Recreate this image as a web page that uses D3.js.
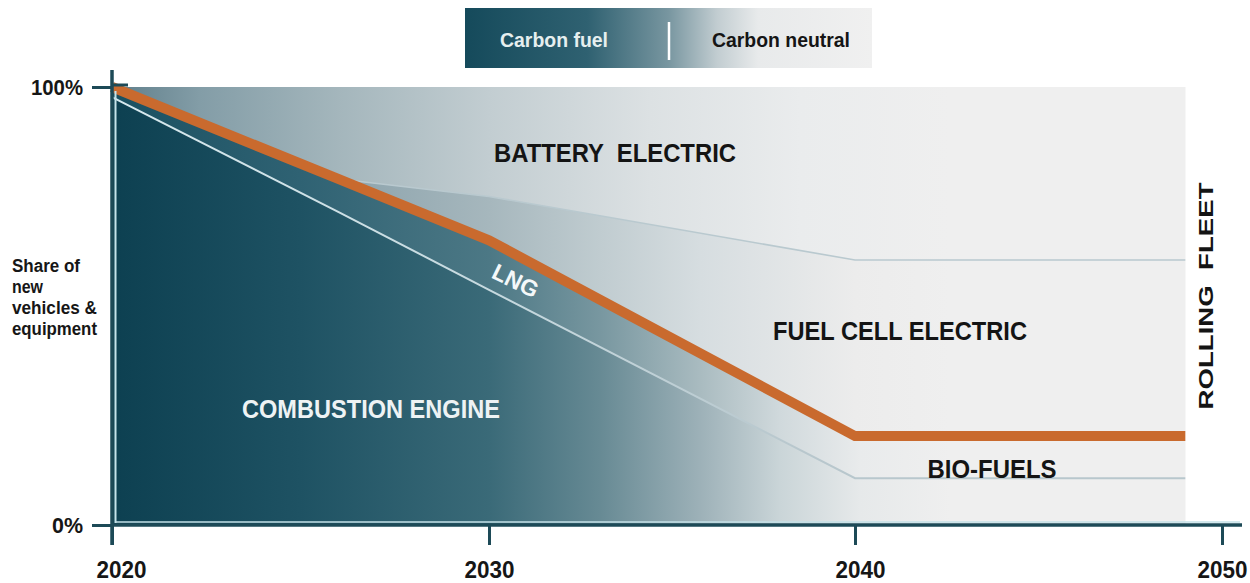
<!DOCTYPE html>
<html>
<head>
<meta charset="utf-8">
<script src="https://cdn.jsdelivr.net/npm/d3@7"></script>
<style>
  html, body { margin: 0; padding: 0; background: #ffffff; }
  svg { display: block; font-family: "Liberation Sans", Arial, sans-serif; }
</style>
</head>
<body>
<svg id="chart" width="1250" height="583"></svg>
<script>
// ---- data ----
const years = [2020, 2026, 2030, 2040, 2049];
const combustionTop = [97.7, 71.5, 53.7, 10.7, 10.7];   // upper edge of combustion engine / bio-fuel floor
const lngTop = [100, 79, 65, 20.3, 20.3];              // orange line (carbon fuel / carbon neutral split)
const fuelCellTop = [100, 79, 75, 60.5, 60.5];         // fuel cell / battery boundary
const batteryTop = [100, 100, 100, 100, 100];
const xTicks = [2020, 2030, 2040, 2050];
const yTicks = [0, 100];
const legendLabels = ["Carbon fuel", "Carbon neutral"];
const yTitle = ["Share of", "new", "vehicles &", "equipment"];

const rows = years.map((yr, i) => ({
  year: yr, ce: combustionTop[i], lng: lngTop[i], fc: fuelCellTop[i], bat: batteryTop[i]
}));

const svg = d3.select("#chart");
const x = d3.scaleLinear().domain([2020, 2030, 2040, 2050]).range([112, 489, 855, 1222]);
const y = d3.scaleLinear().domain([0, 100]).range([525, 87]);

const defs = svg.append("defs");
function grad(id, x1, x2, stops) {
  const g = defs.append("linearGradient").attr("id", id)
    .attr("gradientUnits", "userSpaceOnUse")
    .attr("x1", x1).attr("x2", x2).attr("y1", 0).attr("y2", 0);
  stops.forEach(s => g.append("stop").attr("offset", s[0]).attr("stop-color", s[1]));
}
const X0 = 112, X1 = 1185;
const off = px => (px - X0) / (X1 - X0);
grad("gCE", X0, X1, [[0, "#0d4051"], [off(300), "#1e5263"], [off(489), "#3a6a78"], [off(600), "#678a94"],
  [off(700), "#9db1b8"], [off(780), "#cad5d8"], [off(860), "#e6e9ea"], [off(950), "#efefef"], [1, "#efefef"]]);
grad("gLNG", X0, X1, [[0, "#1a5061"], [off(300), "#2f6273"], [off(489), "#4c7885"], [off(600), "#7897a0"],
  [off(700), "#a9bbc0"], [off(780), "#d0d9dc"], [off(860), "#e9ebec"], [off(950), "#efefef"], [1, "#efefef"]]);
grad("gFC", X0, X1, [[0, "#6f8d98"], [off(338), "#8ca3ac"], [off(489), "#a6b7bd"], [off(600), "#c0ccd0"],
  [off(700), "#d6dde0"], [off(855), "#ececec"], [off(950), "#efefef"], [1, "#efefef"]]);
grad("gBAT", X0, X1, [[0, "#5f7e8a"], [off(200), "#839da7"], [off(338), "#a4b6bc"], [off(489), "#c2cdd1"],
  [off(650), "#dce1e3"], [off(800), "#eaeced"], [off(950), "#efefef"], [1, "#efefef"]]);
grad("gCEline", X0, X1, [[0, "#d6e9ee"], [off(500), "#c6d9df"], [off(800), "#b8c7cd"], [1, "#b8c7cd"]]);
grad("gLegend", 465, 872, [[0, "#154a5b"], [0.3, "#2f6171"], [0.5, "#7896a0"], [0.62, "#c2cdd1"],
  [0.72, "#e8eaeb"], [1, "#f0f0f0"]]);

function fitText(sel, len) {
  return sel.attr("textLength", len).attr("lengthAdjust", "spacingAndGlyphs");
}

// ---- legend ----
const lg = svg.append("g");
lg.append("rect").attr("x", 465).attr("y", 8).attr("width", 407).attr("height", 60).attr("fill", "url(#gLegend)");
lg.append("line").attr("x1", 669).attr("x2", 669).attr("y1", 22).attr("y2", 60)
  .attr("stroke", "#ffffff").attr("stroke-width", 2.5);
fitText(lg.append("text").attr("x", 554).attr("y", 47).attr("text-anchor", "middle")
  .attr("font-size", 21).attr("font-weight", "bold").attr("fill", "#e6efef").text(legendLabels[0]), 108);
fitText(lg.append("text").attr("x", 781).attr("y", 47).attr("text-anchor", "middle")
  .attr("font-size", 21).attr("font-weight", "bold").attr("fill", "#151515").text(legendLabels[1]), 138);

// ---- plot background ----
svg.append("rect").attr("x", x(2020)).attr("y", y(100))
  .attr("width", x(years[years.length - 1]) - x(2020)).attr("height", y(0) - y(100))
  .attr("fill", "#efefef");

const area = (lo, hi) => d3.area().x(d => x(d.year)).y0(d => y(lo(d))).y1(d => y(hi(d)));
svg.append("path").datum(rows).attr("fill", "url(#gBAT)").attr("d", area(d => d.fc, d => d.bat));
svg.append("path").datum(rows).attr("fill", "url(#gFC)").attr("d", area(d => d.lng, d => d.fc));
svg.append("path").datum(rows).attr("fill", "url(#gLNG)").attr("d", area(d => d.ce, d => d.lng));
svg.append("path").datum(rows).attr("fill", "url(#gCE)").attr("d", area(d => 0, d => d.ce));

const line = acc => d3.line().x(d => x(d.year)).y(d => y(acc(d)));
svg.append("path").datum(rows.slice(1)).attr("fill", "none").attr("stroke", "#b9c9cf")
  .attr("stroke-width", 1.6).attr("d", line(d => d.fc));
svg.append("path").datum(rows).attr("fill", "none").attr("stroke", "url(#gCEline)")
  .attr("stroke-width", 2).attr("d", line(d => d.ce));
svg.append("path").datum(rows).attr("fill", "none").attr("stroke", "#c96a2e")
  .attr("stroke-width", 10).attr("stroke-linejoin", "miter").attr("d", line(d => d.lng));

// light edges of the area
svg.append("line").attr("x1", 115.5).attr("x2", 115.5).attr("y1", y(100) + 4).attr("y2", y(0) - 2)
  .attr("stroke", "#c6e3ea").attr("stroke-width", 2);
svg.append("line").attr("x1", 115).attr("x2", 1240).attr("y1", y(0) - 3).attr("y2", y(0) - 3)
  .attr("stroke", "#c3e0e7").attr("stroke-width", 1.6);

// ---- axes ----
const axisColor = "#1d4a57";
const xAxis = svg.append("g").attr("transform", `translate(0,${y(0)})`)
  .call(d3.axisBottom(x).tickValues(xTicks).tickSize(20).tickSizeOuter(0).tickPadding(17)
    .tickFormat(d3.format("d")));
xAxis.select(".domain").remove();
xAxis.selectAll(".tick line").attr("stroke", axisColor).attr("stroke-width", 3);
xAxis.selectAll(".tick text").attr("font-size", 23).attr("font-weight", "bold")
  .attr("font-family", "Liberation Sans, Arial, sans-serif").attr("fill", "#161616")
  .attr("textLength", 50).attr("lengthAdjust", "spacingAndGlyphs");
xAxis.selectAll(".tick text").filter(d => d === 2020).attr("dx", 9);
xAxis.selectAll(".tick text").filter(d => d === 2040).attr("dx", 5);

const yAxis = svg.append("g").attr("transform", `translate(${x(2020)},0)`)
  .call(d3.axisLeft(y).tickValues(yTicks).tickSize(20).tickSizeOuter(0).tickPadding(9)
    .tickFormat(d => d + "%"));
yAxis.select(".domain").remove();
yAxis.selectAll(".tick line").attr("stroke", axisColor).attr("stroke-width", 3);
yAxis.selectAll(".tick text").attr("font-size", 22).attr("font-weight", "bold")
  .attr("font-family", "Liberation Sans, Arial, sans-serif").attr("fill", "#161616")
  .attr("textLength", d => d === 100 ? 52 : 31).attr("lengthAdjust", "spacingAndGlyphs");

// axis lines
svg.append("line").attr("x1", x(2020)).attr("x2", 1242).attr("y1", y(0)).attr("y2", y(0))
  .attr("stroke", axisColor).attr("stroke-width", 3.5);
svg.append("line").attr("x1", x(2020)).attr("x2", x(2020)).attr("y1", 70).attr("y2", y(0) + 20)
  .attr("stroke", axisColor).attr("stroke-width", 3.5);
svg.append("line").attr("x1", x(2020)).attr("x2", x(2020) + 16).attr("y1", y(100) - 2).attr("y2", y(100) - 2)
  .attr("stroke", axisColor).attr("stroke-width", 3);

// ---- y title ----
const titleLens = [68, 31, 85, 85];
yTitle.forEach((t, i) => fitText(svg.append("text").attr("x", 12).attr("y", 272 + i * 21)
  .attr("font-size", 18).attr("font-weight", "bold").attr("fill", "#161616").text(t), titleLens[i]));

// ---- region labels ----
function label(txt, cx, base, len, size, color) {
  fitText(svg.append("text").attr("x", cx).attr("y", base).attr("text-anchor", "middle")
    .attr("font-size", size).attr("font-weight", "bold").attr("fill", color || "#141414")
    .style("white-space", "pre").text(txt), len);
}
label("BATTERY  ELECTRIC", 615, 162, 242, 26);
label("FUEL CELL ELECTRIC", 900, 340, 254, 26);
label("BIO-FUELS", 992, 478, 129, 26);
label("COMBUSTION ENGINE", 371, 418, 258, 26, "#eef3f4");
svg.append("text").attr("transform", "translate(512,288) rotate(26)").attr("text-anchor", "middle")
  .attr("font-size", 23).attr("font-weight", "bold").attr("fill", "#f4f8f9").text("LNG");
fitText(svg.append("text").attr("transform", "translate(1213,296) rotate(-90)").attr("text-anchor", "middle")
  .attr("font-size", 21).attr("font-weight", "bold").attr("fill", "#141414")
  .style("white-space", "pre").text("ROLLING  FLEET"), 227);
</script>
</body>
</html>
